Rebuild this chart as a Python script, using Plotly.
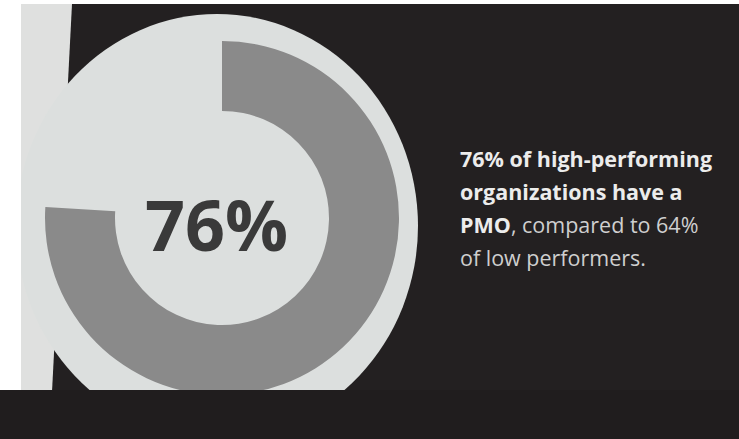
import plotly.graph_objects as go

# ---- data ----
labels = ["Have a PMO", "No PMO"]
values = [76, 24]
center_label = "76%"
text_lines = [
    ("<b>76% of high-performing</b>", "#ececec"),
    ("<b>organizations have a</b>", "#ececec"),
    ("<b>PMO</b><span style='color:#cfcfcf'>, compared to 64%</span>", "#ececec"),
    ("of low performers.", "#cfcfcf"),
]

W, H = 739, 439


def px(x):
    return x / W


def py(y):
    return 1 - y / H


BG = "#232021"
DISC = "#dcdfde"
RING = "#8a8a8a"
STRIP = "#dfe0df"

# ring geometry (pixels)
cx, cy, r_out, r_in = 222, 218, 177, 107

fig = go.Figure()
fig.add_trace(go.Pie(
    labels=labels,
    values=values,
    hole=r_in / r_out,
    sort=False,
    direction="clockwise",
    rotation=0,
    marker=dict(colors=[RING, "rgba(0,0,0,0)"], line=dict(width=0)),
    textinfo="none",
    hoverinfo="label+value",
    showlegend=False,
    domain=dict(x=[px(cx - r_out), px(cx + r_out)], y=[py(cy + r_out), py(cy - r_out)]),
))

shapes = []
# left light paper strip
shapes.append(dict(type="path", xref="paper", yref="paper", layer="below",
                   path=f"M {px(21)} {py(4)} L {px(72)} {py(4)} L {px(52)} {py(392)} L {px(21)} {py(392)} Z",
                   fillcolor=STRIP, line=dict(width=0)))
# light disc (slightly elliptical, as photographed)
dcx, dcy, drx, dry = 217, 226, 201, 212
shapes.append(dict(type="circle", xref="paper", yref="paper", layer="below",
                   x0=px(dcx - drx), x1=px(dcx + drx), y0=py(dcy + dry), y1=py(dcy - dry),
                   fillcolor=DISC, line=dict(width=0)))
# white margins (top, left)
shapes.append(dict(type="rect", xref="paper", yref="paper", layer="above",
                   x0=0, x1=1, y0=py(4), y1=1, fillcolor="#ffffff", line=dict(width=0)))
shapes.append(dict(type="rect", xref="paper", yref="paper", layer="above",
                   x0=0, x1=px(21), y0=py(390), y1=1, fillcolor="#ffffff", line=dict(width=0)))
# bottom dark band
shapes.append(dict(type="rect", xref="paper", yref="paper", layer="above",
                   x0=0, x1=1, y0=0, y1=py(390), fillcolor="#201d1e", line=dict(width=0)))

annotations = [dict(
    x=px(216), y=py(224), xref="paper", yref="paper", text=f"<b>{center_label}</b>",
    showarrow=False, xanchor="center", yanchor="middle",
    font=dict(family="Open Sans", size=70, color="#3a3a3a"),
)]
line_y = [158, 191, 224, 257]
for (t, c), yy in zip(text_lines, line_y):
    annotations.append(dict(
        x=px(458), y=py(yy), xref="paper", yref="paper", text=t,
        showarrow=False, xanchor="left", yanchor="middle", align="left",
        font=dict(family="Open Sans", size=21.5, color=c),
    ))

fig.update_layout(
    width=W, height=H,
    margin=dict(l=0, r=0, t=0, b=0),
    paper_bgcolor=BG, plot_bgcolor=BG,
    shapes=shapes, annotations=annotations,
    showlegend=False,
)

fig.write_html("out.html", config={"displayModeBar": False},
               post_script="document.body.style.margin='0';document.body.style.overflow='hidden';")
